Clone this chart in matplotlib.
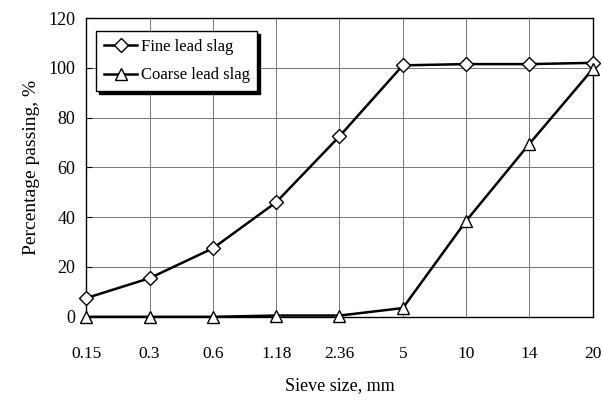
'''
Sieve analysis of fine and coarse lead slag
'''

import matplotlib.pyplot as plt
import numpy

plt.rcParams['font.family'] = ['Liberation Serif', 'DejaVu Serif']

sieve_sizes = ['0.15', '0.3', '0.6', '1.18', '2.36', '5', '10', '14', '20']
fine_passing = [7.5, 15.5, 27.5, 46, 72.5, 101, 101.5, 101.5, 102]
coarse_passing = [0, 0, 0, 0.5, 0.5, 3.5, 38.5, 69.5, 99.5]

fig, ax = plt.subplots(figsize=(6.03, 4.01), dpi=100)
fig.subplots_adjust(left=0.143, right=0.983, top=0.955, bottom=0.21)

x = numpy.arange(len(sieve_sizes))
ax.plot(x, fine_passing, color='black', linewidth=1.8, marker='D',
        markersize=7, markerfacecolor='white', markeredgewidth=1.0,
        label='Fine lead slag', clip_on=False, zorder=3)
ax.plot(x, coarse_passing, color='black', linewidth=1.8, marker='^',
        markersize=8, markerfacecolor='white', markeredgewidth=1.0,
        label='Coarse lead slag', clip_on=False, zorder=3)

ax.set_xlim(0, len(sieve_sizes) - 1)
ax.set_ylim(0, 120)
ax.set_xticks(x)
ax.set_xticklabels(sieve_sizes)
ax.set_yticks(numpy.arange(0, 121, 20))
ax.tick_params(axis='x', length=0, pad=21, labelsize=12.5)
ax.tick_params(axis='y', direction='in', length=4, labelsize=13, pad=8)
ax.grid(True, color='#777777', linewidth=0.7)
ax.set_axisbelow(True)
for spine in ax.spines.values():
    spine.set_linewidth(1.0)

ax.set_xlabel('Sieve size, mm', fontsize=13, labelpad=11)
ax.set_ylabel('Percentage passing, %', fontsize=14, labelpad=6)

legend = ax.legend(loc='upper left', bbox_to_anchor=(0.02, 0.955),
                   fontsize=12, frameon=True, fancybox=False,
                   shadow={'color': 'black', 'alpha': 1.0},
                   borderpad=0.45, labelspacing=0.75, handlelength=2.0,
                   handletextpad=0.2, borderaxespad=0)
legend.get_frame().set_edgecolor('black')
legend.get_frame().set_linewidth(1.0)

plt.savefig('out.png', dpi=100)
